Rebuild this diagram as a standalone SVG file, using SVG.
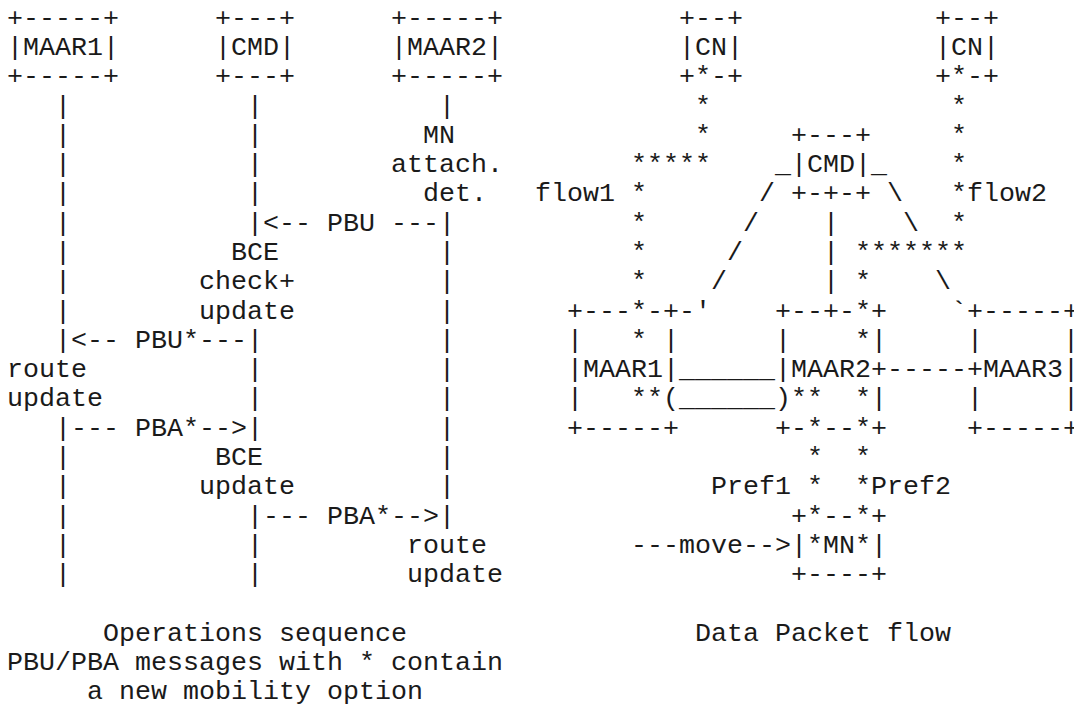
<svg xmlns="http://www.w3.org/2000/svg" width="1074" height="704" viewBox="0 0 1074 704" xml:space="preserve">
<style>
text { font-family: "Liberation Mono", "Courier New", monospace; font-size: 26.667px; fill: #1a1a1a; white-space: pre; }
</style>
<rect width="1074" height="704" fill="#fff"/>
<!-- Operations sequence: nodes -->
<g id="seq-maar1"><text x="7" y="25.7">+-----+</text><text x="7" y="55.0">|MAAR1|</text><text x="7" y="84.3">+-----+</text></g>
<g id="seq-cmd"><text x="215" y="25.7">+---+</text><text x="215" y="55.0">|CMD|</text><text x="215" y="84.3">+---+</text></g>
<g id="seq-maar2"><text x="391" y="25.7">+-----+</text><text x="391" y="55.0">|MAAR2|</text><text x="391" y="84.3">+-----+</text></g>
<!-- Data packet flow: nodes -->
<g id="cn1"><text x="679" y="25.7">+--+</text><text x="679" y="55.0">|CN|</text><text x="679" y="84.3">+*-+</text></g>
<g id="cn2"><text x="935" y="25.7">+--+</text><text x="935" y="55.0">|CN|</text><text x="935" y="84.3">+*-+</text></g>
<g id="cmd"><text x="791" y="142.8">+---+</text><text x="791" y="172.1">|CMD|</text><text x="791" y="201.4">+-+-+</text></g>
<g id="maar1"><text x="567" y="318.5">+---*-+</text><text x="567" y="347.8">|   * |</text><text x="567" y="377.1">|MAAR1|</text><text x="567" y="406.3">|   **(</text><text x="567" y="435.6">+-----+</text></g>
<g id="maar2"><text x="775" y="318.5">+--+-*+</text><text x="775" y="347.8">|    *|</text><text x="775" y="377.1">|MAAR2+</text><text x="775" y="406.3">)**  *|</text><text x="775" y="435.6">+-*--*+</text></g>
<g id="maar3"><text x="967" y="318.5">+-----+</text><text x="967" y="347.8">|     |</text><text x="967" y="377.1">+MAAR3|</text><text x="967" y="406.3">|     |</text><text x="967" y="435.6">+-----+</text></g>
<g id="mn"><text x="791" y="523.5">+*--*+</text><text x="791" y="552.7">|*MN*|</text><text x="791" y="582.0">+----+</text></g>
<!-- connectors -->
<g id="connectors">
<text><tspan x="55" y="113.5">|</tspan><tspan x="55" y="142.8">|</tspan><tspan x="55" y="172.1">|</tspan><tspan x="55" y="201.4">|</tspan><tspan x="55" y="230.7">|</tspan><tspan x="55" y="259.9">|</tspan><tspan x="55" y="289.2">|</tspan><tspan x="55" y="318.5">|</tspan><tspan x="55" y="464.9">|</tspan><tspan x="55" y="494.2">|</tspan><tspan x="55" y="523.5">|</tspan><tspan x="55" y="552.7">|</tspan><tspan x="55" y="582.0">|</tspan></text>
<text><tspan x="247" y="113.5">|</tspan><tspan x="247" y="142.8">|</tspan><tspan x="247" y="172.1">|</tspan><tspan x="247" y="201.4">|</tspan><tspan x="247" y="377.1">|</tspan><tspan x="247" y="406.3">|</tspan><tspan x="247" y="552.7">|</tspan><tspan x="247" y="582.0">|</tspan></text>
<text><tspan x="439" y="113.5">|</tspan><tspan x="439" y="259.9">|</tspan><tspan x="439" y="289.2">|</tspan><tspan x="439" y="318.5">|</tspan><tspan x="439" y="347.8">|</tspan><tspan x="439" y="377.1">|</tspan><tspan x="439" y="406.3">|</tspan><tspan x="439" y="435.6">|</tspan><tspan x="439" y="464.9">|</tspan><tspan x="439" y="494.2">|</tspan></text>
<text x="247" y="230.7">|&lt;-- PBU ---|</text>
<text x="55" y="347.8">|&lt;-- PBU*---|</text>
<text x="55" y="435.6">|--- PBA*--&gt;|</text>
<text x="247" y="523.5">|--- PBA*--&gt;|</text>
<!-- flow1 -->
<text><tspan x="695" y="113.5">*</tspan><tspan x="695" y="142.8">*</tspan><tspan x="631" y="172.1">*****</tspan><tspan x="631" y="201.4">*</tspan><tspan x="631" y="230.7">*</tspan><tspan x="631" y="259.9">*</tspan><tspan x="631" y="289.2">*</tspan></text>
<!-- flow2 -->
<text><tspan x="951" y="113.5">*</tspan><tspan x="951" y="142.8">*</tspan><tspan x="951" y="172.1">*</tspan><tspan x="951" y="201.4">*</tspan><tspan x="951" y="230.7">*</tspan><tspan x="855" y="259.9">*******</tspan><tspan x="855" y="289.2">*</tspan></text>
<!-- prefixes to MN -->
<text><tspan x="807" y="464.9">*  *</tspan><tspan x="807" y="494.2">*  *</tspan></text>
<!-- CMD to MAARs -->
<text><tspan x="775" y="172.1">_</tspan><tspan x="871" y="172.1">_</tspan><tspan x="759" y="201.4">/</tspan><tspan x="743" y="230.7">/</tspan><tspan x="727" y="259.9">/</tspan><tspan x="711" y="289.2">/</tspan><tspan x="679" y="318.5">-'</tspan></text>
<text><tspan x="887" y="201.4">\</tspan><tspan x="903" y="230.7">\</tspan><tspan x="935" y="289.2">\</tspan><tspan x="951" y="318.5">`</tspan></text>
<text><tspan x="823" y="230.7">|</tspan><tspan x="823" y="259.9">|</tspan><tspan x="823" y="289.2">|</tspan></text>
<!-- MAAR links -->
<text><tspan x="679" y="377.1">______</tspan><tspan x="679" y="406.3">______</tspan><tspan x="887" y="377.1">-----</tspan></text>
<text x="631" y="552.7">---move--&gt;</text>
</g>
<!-- labels -->
<g id="labels">
<text x="423" y="142.8">MN</text>
<text x="391" y="172.1">attach.</text>
<text x="423" y="201.4">det.</text>
<text x="231" y="259.9">BCE</text>
<text x="199" y="289.2">check+</text>
<text x="199" y="318.5">update</text>
<text x="7" y="377.1">route</text>
<text x="7" y="406.3">update</text>
<text x="215" y="464.9">BCE</text>
<text x="199" y="494.2">update</text>
<text x="407" y="552.7">route</text>
<text x="407" y="582.0">update</text>
<text x="535" y="201.4">flow1</text>
<text x="967" y="201.4">flow2</text>
<text x="711" y="494.2">Pref1</text>
<text x="871" y="494.2">Pref2</text>
<text x="103" y="640.6">Operations sequence</text>
<text x="7" y="669.9">PBU/PBA messages with * contain</text>
<text x="87" y="699.1">a new mobility option</text>
<text x="695" y="640.6">Data Packet flow</text>
</g>
</svg>
